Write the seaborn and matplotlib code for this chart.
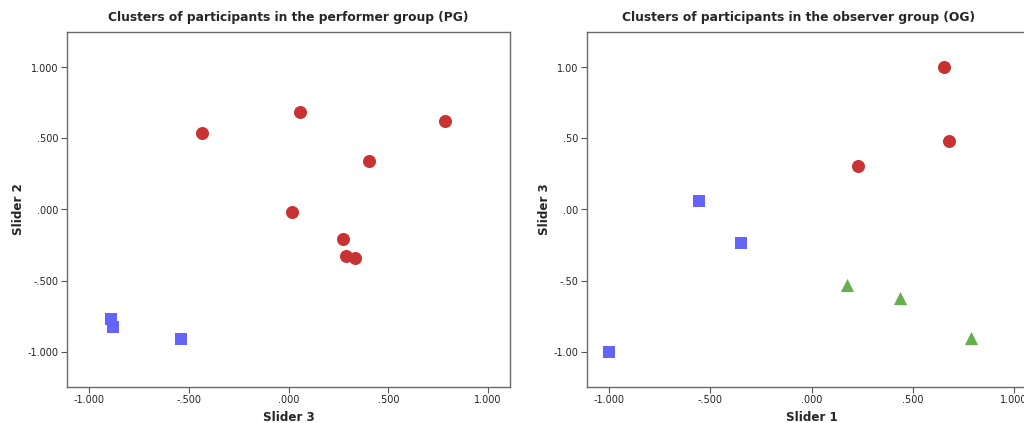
import matplotlib
matplotlib.use("Agg")
import matplotlib.pyplot as plt
import seaborn as sns
import pandas as pd
from matplotlib.ticker import FuncFormatter

# ---- Data: performer group (PG) ----
pg_cluster = ["A"] * 8 + ["B"] * 3
pg_slider3 = [-0.431, 0.060, 0.782, 0.401, 0.020, 0.271, 0.286, 0.331,
              -0.892, -0.879, -0.541]
pg_slider2 = [0.537, 0.685, 0.622, 0.340, -0.019, -0.209, -0.329, -0.343,
              -0.773, -0.828, -0.913]

# ---- Data: observer group (OG) ----
og_cluster = ["A"] * 3 + ["B"] * 3 + ["C"] * 3
og_slider1 = [0.653, 0.678, 0.230, -1.000, -0.556, -0.347, 0.174, 0.439, 0.789]
og_slider3 = [1.000, 0.481, 0.305, -1.000, 0.059, -0.236, -0.533, -0.623, -0.908]

x_ticks = [-1.0, -0.5, 0.0, 0.5, 1.0]
y_ticks = [-1.0, -0.5, 0.0, 0.5, 1.0]

titles = ["Clusters of participants in the performer group (PG)",
          "Clusters of participants in the observer group (OG)"]

palette = {"A": "#C83232", "B": "#6464FA", "C": "#66AE4E"}
markers = {"A": "o", "B": "s", "C": "^"}
sizes = {"A": 88, "B": 75, "C": 90}

sns.set_theme(style="white")
plt.rcParams['font.family'] = ['DejaVu Sans']

fig = plt.figure(figsize=(10.24, 4.23), dpi=100)
ax1 = fig.add_axes([67 / 1024, 36 / 423, 443 / 1024, 355 / 423])
ax2 = fig.add_axes([587 / 1024, 36 / 423, 449 / 1024, 355 / 423])

df_pg = pd.DataFrame({"Slider 3": pg_slider3, "Slider 2": pg_slider2, "cluster": pg_cluster})
df_og = pd.DataFrame({"Slider 1": og_slider1, "Slider 3": og_slider3, "cluster": og_cluster})


def fmt3(v, pos):
    s = f"{v:.3f}"
    return s.replace("0.", ".", 1) if abs(v) < 1 else s


def fmt2(v, pos):
    s = f"{v:.2f}"
    return s.replace("0.", ".", 1) if abs(v) < 1 else s


for ax, df, xcol, ycol, title, yfmt in [
        (ax1, df_pg, "Slider 3", "Slider 2", titles[0], fmt3),
        (ax2, df_og, "Slider 1", "Slider 3", titles[1], fmt2)]:
    for cl, sub in df.groupby("cluster"):
        sns.scatterplot(data=sub, x=xcol, y=ycol, ax=ax, color=palette[cl],
                        marker=markers[cl], s=sizes[cl], linewidth=0,
                        legend=False, zorder=3)
    ax.set_xlim(-1.11, 1.11)
    ax.set_ylim(-1.25, 1.25)
    ax.set_xticks(x_ticks)
    ax.set_yticks(y_ticks)
    ax.xaxis.set_major_formatter(FuncFormatter(fmt3))
    ax.yaxis.set_major_formatter(FuncFormatter(yfmt))
    ax.tick_params(axis="both", direction="out", length=4, width=0.8,
                   color="#555555", labelsize=7, labelcolor="#222222",
                   bottom=True, left=True, pad=2)
    for sp in ax.spines.values():
        sp.set_color("#6a6a6a")
        sp.set_linewidth(1.0)
    ax.set_xlabel(xcol, fontsize=8.6, fontweight="bold", labelpad=4)
    ax.set_ylabel(ycol, fontsize=8.6, fontweight="bold", labelpad=2)
    ax.set_title(title, fontsize=8.8, fontweight="bold", pad=8)

# centre right title on visible portion similar to reference
ax2.title.set_position((0.47, 1.0))

fig.savefig("out.png", dpi=100)
